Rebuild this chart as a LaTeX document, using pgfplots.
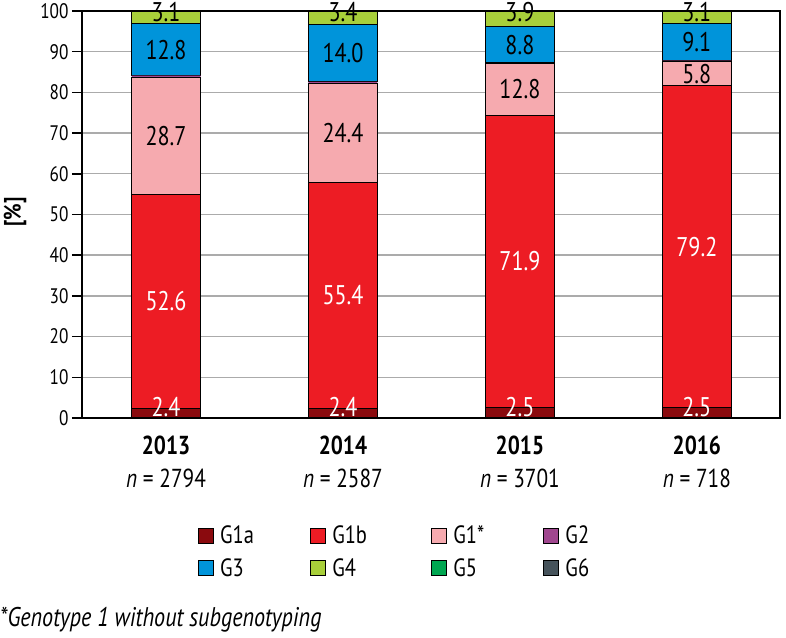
\documentclass[border=0pt]{standalone}
\usepackage{fontspec}
\setmainfont{PT Sans}[FakeStretch=0.82]
\usepackage{pgfplots}
\pgfplotsset{compat=1.18}
\definecolor{cGa}{HTML}{8A0A0E}
\definecolor{cGb}{HTML}{ED1C24}
\definecolor{cGs}{HTML}{F6AAAF}
\definecolor{cGtwo}{HTML}{A0478F}
\definecolor{cGthree}{HTML}{0094DA}
\definecolor{cGfour}{HTML}{A8CF3A}
\definecolor{cGfive}{HTML}{00A651}
\definecolor{cGsix}{HTML}{46535B}
\definecolor{gridgray}{HTML}{ABABAB}
\pgfplotstableread{
x G1a G1b G1s G2 G3 G4
0 2.4 52.6 28.7 0.4 12.8 3.1
1 2.4 55.4 24.4 0.4 14.0 3.4
2 2.5 71.9 12.8 0.1 8.8 3.9
3 2.5 79.2 5.8 0.3 9.1 3.1
}\datatable
\pgfplotstableread{
x y label
0 28.7 52.6
1 30.1 55.4
2 38.45 71.9
3 42.1 79.2
0 2.7 2.4
1 2.7 2.4
2 2.7 2.5
3 2.7 2.5
}\whitelabels
\pgfplotstableread{
x y label
0 69.35 28.7
1 70.0 24.4
2 80.8 12.8
3 84.6 5.8
0 90.5 12.8
1 89.6 14.0
2 91.7 8.8
3 92.35 9.1
0 99.8 3.1
1 99.8 3.4
2 99.8 3.9
3 99.8 3.1
}\blacklabels
\begin{document}
\begin{tikzpicture}
\useasboundingbox (0,0) rectangle (786pt,637pt);
\begin{axis}[
  at={(82pt,219pt)}, anchor=south west,
  scale only axis, width=698pt, height=407pt,
  ybar stacked, bar width=69pt,
  xmin=-0.475, xmax=3.47, ymin=0, ymax=100,
  xtick={0,1,2,3},
  xticklabels={{\textbf{2013}\\\textit{n} = 2794},{\textbf{2014}\\\textit{n} = 2587},{\textbf{2015}\\\textit{n} = 3701},{\textbf{2016}\\\textit{n} = 718}},
  xticklabel style={align=center, font=\fontsize{26}{33}\selectfont, yshift=-4pt},
  ytick={0,10,...,100},
  yticklabel style={font=\fontsize{21}{24}\selectfont},
  /pgf/number format/assume math mode=true,
  ymajorgrids, grid style={line width=1.4pt, color=gridgray},
  axis line style={line width=1.6pt},
  tick pos=left, tick align=outside, major tick length=10pt,
  ytick style={line width=1.6pt, black},
  xtick style={draw=none},
  ylabel={[\%]},
  ylabel style={font=\bfseries\fontsize{24}{28}\selectfont, at={(axis description cs:-0.096,0.506)}, anchor=center},
  every axis plot/.append style={draw=black, line width=1.2pt},
  legend columns=4,
  legend image code/.code={\draw[#1, draw=black, line width=1pt] (0pt,-7.5pt) rectangle (15pt,7.5pt); \path (19pt,0pt);},
  legend style={draw=none, fill=none, inner sep=0pt, font=\fontsize{25}{29}\selectfont,
    at={(axis description cs:0.166,-0.26)}, anchor=north west, row sep=9pt},
]
\addplot[fill=cGa] table[x=x, y=G1a] {\datatable};
\addlegendentry{\makebox[88pt][l]{G1a}}
\addplot[fill=cGb] table[x=x, y=G1b] {\datatable};
\addlegendentry{\makebox[97pt][l]{G1b}}
\addplot[fill=cGs] table[x=x, y=G1s] {\datatable};
\addlegendentry{\makebox[88pt][l]{G1*}}
\addplot[fill=cGtwo, draw=none] table[x=x, y=G2] {\datatable};
\addlegendentry{\makebox[40pt][l]{G2}}
\addplot[fill=cGthree] table[x=x, y=G3] {\datatable};
\addlegendentry{\makebox[88pt][l]{G3}}
\addplot[fill=cGfour] table[x=x, y=G4] {\datatable};
\addlegendentry{\makebox[97pt][l]{G4}}
\addlegendimage{fill=cGfive}
\addlegendentry{\makebox[88pt][l]{G5}}
\addlegendimage{fill=cGsix}
\addlegendentry{\makebox[40pt][l]{G6}}
\end{axis}
\begin{axis}[
  at={(82pt,219pt)}, anchor=south west,
  scale only axis, width=698pt, height=407pt,
  xmin=-0.475, xmax=3.47, ymin=0, ymax=100,
  hide axis, clip=false,
]
\addplot[draw=none, mark=none, nodes near coords, point meta=explicit symbolic,
  every node near coord/.append style={anchor=center, text=white, font=\fontsize{27}{30}\selectfont}]
  table[x=x, y=y, meta=label] {\whitelabels};
\addplot[draw=none, mark=none, nodes near coords, point meta=explicit symbolic,
  every node near coord/.append style={anchor=center, text=black, font=\fontsize{27}{30}\selectfont}]
  table[x=x, y=y, meta=label] {\blacklabels};
\end{axis}
\node[anchor=west, inner sep=0pt, font=\itshape\fontsize{27}{30}\selectfont] at (0pt,17pt) {*Genotype 1 without subgenotyping};
\end{tikzpicture}
\end{document}
